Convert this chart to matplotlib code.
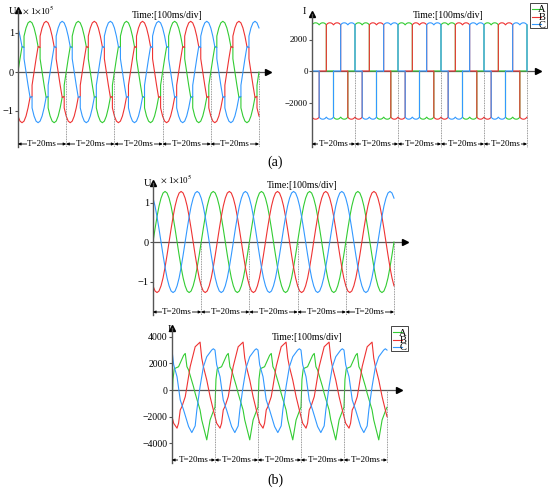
import numpy as np
import matplotlib.pyplot as plt
from matplotlib.patches import Rectangle
from matplotlib.lines import Line2D

plt.rcParams['font.family'] = ['Liberation Serif', 'DejaVu Serif']
plt.rcParams['mathtext.fontset'] = 'stix'

W, H = 550, 492
GREEN, RED, BLUE = '#33cc33', '#ee3333', '#3399ff'
AXC = '#555555'

# (a) left: converter bus phase voltage, phase A over one cycle (deg, x1e5)
va_deg = [0, 15, 30, 37.5, 45, 45, 60, 75, 90, 105, 120, 135, 150, 157.5, 165, 165, 180,
          195, 210, 217.5, 225, 225, 240, 255, 270, 285, 300, 315, 330, 337.5, 345, 345, 360]
va_val = [0, 0.34, 0.65, 0.64, 0.63, 0.92, 1.13, 1.26, 1.30, 1.26, 1.13, 0.92, 0.65, 0.64, 0.63, 0.34, 0,
          -0.34, -0.65, -0.64, -0.63, -0.92, -1.13, -1.26, -1.30, -1.26, -1.13, -0.92, -0.65, -0.64, -0.63, -0.34, 0]

# (a) right: valve-side current, phase A over one cycle (deg, A)
ia_deg = [0, 0, 10, 20, 30, 40, 50, 60, 70, 80, 90, 100, 110, 120, 120, 180,
          180, 190, 200, 210, 220, 230, 240, 250, 260, 270, 280, 290, 300, 300, 360]
ia_val = [0, 2930, 3010, 3050, 3060, 3050, 3010, 2930, 3010, 3050, 3060, 3050, 3010, 2930, 0, 0,
          -2930, -3010, -3050, -3060, -3050, -3010, -2930, -3010, -3050, -3060, -3050, -3010, -2930, 0, 0]

# (b) top: phase A voltage over one cycle (deg, x1e5)
vb_deg = list(range(0, 361, 15))
vb_val = [0, 0.33, 0.64, 0.91, 1.11, 1.24, 1.28, 1.24, 1.11, 0.91, 0.64, 0.33, 0,
          -0.33, -0.64, -0.91, -1.11, -1.24, -1.28, -1.24, -1.11, -0.91, -0.64, -0.33, 0]

# (b) bottom: phase currents over one cycle (deg, A)
ib_a_deg = [0, 8, 19, 55, 97, 111, 125, 139, 180, 194, 235, 249, 291, 305, 319, 350, 360]
ib_a_val = [-1300, 800, 1600, 1750, 2600, 2750, 1750, 1500, 250, -250, -1500, -2250, -3750,
            -3000, -2250, -1500, -1300]
ib_b_deg = [0, 14, 42, 55, 69, 83, 111, 125, 152, 194, 235, 249, 263, 291, 319, 346, 360]
ib_b_val = [-2000, -2500, -2870, -2500, -1500, -1250, -500, 250, 1750, 3250, 3600, 2400, 1750,
            750, -500, -1500, -2000]
ib_c_deg = [0, 14, 42, 69, 97, 139, 166, 194, 208, 235, 263, 291, 332, 346, 360]
ib_c_val = [3000, 1900, 1000, -750, -1500, -2750, -3200, -2700, -1500, 250, 1750, 2500, 3000, 3100, 3000]

n_cycles = 5
period_ms = 20


def tile(deg, val, shift=0):
    deg = np.asarray(deg, float)
    val = np.asarray(val, float)
    ts, vs = [], []
    for k in range(-1, n_cycles + 1):
        ts.append((deg + shift) / 360 * period_ms + k * period_ms)
        vs.append(val)
    t = np.concatenate(ts)
    v = np.concatenate(vs)
    keep = (t >= 0) & (t <= n_cycles * period_ms)
    return t[keep], v[keep]


fig = plt.figure(figsize=(W / 100, H / 100), dpi=100)


def panel(x0, y0, sx, sy, right, top, ann, ticks, labels, series, tfs=6.5):
    bottom = ann + 6
    ax = fig.add_axes([x0 / W, 1 - bottom / H, (right - x0) / W, (bottom - top) / H])
    ax.set_xlim(0, (right - x0) / sx)
    ax.set_ylim((y0 - bottom) / sy, (y0 - top) / sy)
    for s in ['top', 'right', 'bottom']:
        ax.spines[s].set_visible(False)
    ybot = (y0 - ann - 3) / sy
    ytop = (y0 - top - 2) / sy
    xend = (right - x0 - 2) / sx
    ax.spines['left'].set_bounds(ybot, ytop)
    ax.spines['left'].set_color(AXC)
    ax.spines['left'].set_linewidth(1.0)
    ax.plot(0, ytop, marker='^', ms=4, color='k', clip_on=False)
    ax.plot([0, xend], [0, 0], color=AXC, lw=0.9)
    ax.plot(xend, 0, marker='>', ms=4, color='k', clip_on=False)
    ax.set_xticks([])
    ax.set_yticks(ticks, labels)
    ax.tick_params(axis='y', length=2, width=0.8, labelsize=tfs, pad=1, color=AXC)
    ax.patch.set_alpha(0)

    for t, v, c in series:
        ax.plot(t, v, color=c, lw=0.8)

    ya = (y0 - ann) / sy
    for k in range(n_cycles):
        t1 = (k + 1) * period_ms
        ax.plot([t1, t1], [0, ybot], ls=(0, (1, 1)), color='#777777', lw=0.6)
        ax.annotate('', xy=(k * period_ms, ya), xytext=(t1, ya),
                    arrowprops=dict(arrowstyle='<|-|>', color='k', lw=0.6,
                                    mutation_scale=4, shrinkA=0, shrinkB=0))
        ax.text(k * period_ms + period_ms / 2, ya, 'T=20ms', ha='center', va='center',
                fontsize=6.5, bbox=dict(fc='white', ec='none', pad=0.2))
    return ax


def fig_text(x, y, s, **kw):
    fig.text(x / W, 1 - y / H, s, **kw)


def legend_box(x, y):
    fig.add_artist(Rectangle((x / W, 1 - (y + 25) / H), 17 / W, 25 / H,
                             transform=fig.transFigure, fc='white', ec='#444444', lw=0.7))
    for i, (c, name) in enumerate(zip([GREEN, RED, BLUE], ['A', 'B', 'C'])):
        yy = y + 6 + i * 7.5
        fig.add_artist(Line2D([(x + 2) / W, (x + 11) / W], [1 - yy / H, 1 - yy / H],
                              transform=fig.transFigure, color=c, lw=0.8))
        fig_text(x + 12, yy + 1, name, fontsize=7.5, ha='center', va='center')


# (a) left
panel(18, 72, 2.41, 39, 270, 8, 144, [-1, 0, 1], ['\u22121', '0', '1'],
      [tile(va_deg, va_val, 0) + (GREEN,),
       tile(va_deg, va_val, 120) + (RED,),
       tile(va_deg, va_val, 240) + (BLUE,)], tfs=7.5)
fig_text(12, 12, 'U', fontsize=7.5, ha='center', va='center')
fig_text(22, 10, r'$\times$ 1$\times$10$^5$', fontsize=6.5, ha='left', va='center')
fig_text(167, 15, 'Time:[100ms/div]', fontsize=7, ha='center', va='center')

# (a) right
panel(312, 71, 2.15, 31.5 / 2000, 540, 12, 144, [-2000, 0, 2000], ['\u22122000', '0', '2000'],
      [tile(ia_deg, ia_val, 0) + (GREEN,),
       tile(ia_deg, ia_val, 120) + (RED,),
       tile(ia_deg, ia_val, 240) + (BLUE,)], tfs=6.5)
fig_text(304, 12, 'I', fontsize=7.5, ha='center', va='center')
fig_text(448, 16, 'Time:[100ms/div]', fontsize=7, ha='center', va='center')
legend_box(530, 3)

fig_text(275, 162, '(a)', fontsize=10, ha='center', va='center')

# (b) top
panel(153, 242, 2.41, 39.5, 407, 181, 312, [-1, 0, 1], ['\u22121', '0', '1'],
      [tile(vb_deg, vb_val, 0) + (GREEN,),
       tile(vb_deg, vb_val, 120) + (RED,),
       tile(vb_deg, vb_val, 240) + (BLUE,)], tfs=7.5)
fig_text(147, 183, 'U', fontsize=7.5, ha='center', va='center')
fig_text(160, 179, r'$\times$ 1$\times$10$^5$', fontsize=6.5, ha='left', va='center')
fig_text(302, 185, 'Time:[100ms/div]', fontsize=7, ha='center', va='center')

# (b) bottom
panel(172, 390, 2.15, 26.6 / 2000, 401, 326, 460,
      [-4000, -2000, 0, 2000, 4000], ['\u22124000', '\u22122000', '0', '2000', '4000'],
      [tile(ib_a_deg, ib_a_val) + (GREEN,),
       tile(ib_b_deg, ib_b_val) + (RED,),
       tile(ib_c_deg, ib_c_val) + (BLUE,)], tfs=7)
fig_text(169, 329, 'I', fontsize=7.5, ha='center', va='center')
fig_text(307, 338, 'Time:[100ms/div]', fontsize=7, ha='center', va='center')
legend_box(391, 326)

fig_text(275, 480, '(b)', fontsize=10, ha='center', va='center')

fig.savefig('out.png', dpi=100)
